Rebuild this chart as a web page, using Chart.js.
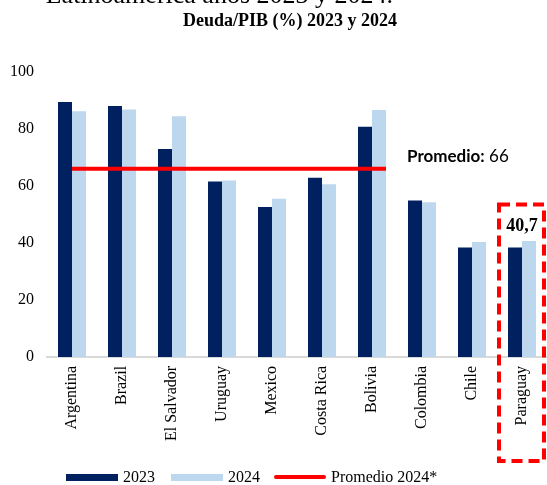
<!DOCTYPE html>
<html>
<head>
<meta charset="utf-8">
<script src="https://cdn.jsdelivr.net/npm/chart.js@4.4.1/dist/chart.umd.min.js"></script>
<style>
  html, body { margin: 0; padding: 0; background: #fff; }
  #wrap { position: relative; width: 547px; height: 485px; }
  #legend {
    position: absolute; left: 66px; top: 466px; height: 22px;
    display: flex; align-items: center;
    font: 16px 'Liberation Serif', 'Times New Roman', serif; color: #000;
  }
  #legend .sw { display: inline-block; width: 52px; margin-right: 5px; }
  #legend .item { display: flex; align-items: center; margin-right: 16px; }
</style>
</head>
<body>
<div id="wrap">
  <canvas id="myChart" width="547" height="485"></canvas>
  <div id="legend"></div>
</div>
<script>
// datos Deuda/PIB
var paises = ['Argentina', 'Brazil', 'El Salvador', 'Uruguay', 'Mexico',
  'Costa Rica', 'Bolivia', 'Colombia', 'Chile', 'Paraguay'];
var deuda2023 = [89.5, 88.1, 73.0, 61.6, 52.6, 62.9, 80.8, 54.9, 38.4, 38.4];
var deuda2024 = [86.2, 86.8, 84.5, 61.9, 55.5, 60.6, 86.7, 54.3, 40.3, 40.7];
var promedio2024 = 66;
var promedioDesde = 'Argentina';
var promedioHasta = 'Bolivia';
var destacado = 'Paraguay';
var yTicks = [0, 20, 40, 60, 80, 100];

var azul = '#002060';
var celeste = '#BDD7EE';
var rojo = '#FF0000';
var serif = "'Liberation Serif', 'Times New Roman', serif";

// legend (html)
document.getElementById('legend').innerHTML =
  '<span class="item"><span class="sw" style="height:7px;background:' + azul + '"></span>2023</span>' +
  '<span class="item" style="margin-right:14px"><span class="sw" style="height:7px;background:' + celeste + '"></span>2024</span>' +
  '<span class="item"><span class="sw" style="height:4px;border-radius:2px;background:' + rojo + '"></span>Promedio 2024*</span>';

var extras = {
  id: 'extras',
  afterDatasetsDraw: function (chart) {
    // promedio line: from Argentina (2024 bar start) to Bolivia (2024 bar end)
    var ctx = chart.ctx;
    var y = chart.scales.y;
    var bars = chart.getDatasetMeta(1).data;
    var a = bars[paises.indexOf(promedioDesde)];
    var b = bars[paises.indexOf(promedioHasta)];
    var py = y.getPixelForValue(promedio2024);
    ctx.save();
    ctx.strokeStyle = rojo;
    ctx.lineWidth = 4;
    ctx.beginPath();
    ctx.moveTo(a.x - a.width / 2, py);
    ctx.lineTo(b.x + b.width / 2, py);
    ctx.stroke();
    ctx.restore();
  },
  afterDraw: function (chart) {
    var ctx = chart.ctx;
    var x = chart.scales.x;
    var y = chart.scales.y;
    ctx.save();

    // cut heading at the very top
    ctx.fillStyle = '#000';
    ctx.font = '26px ' + serif;
    ctx.textAlign = 'right';
    ctx.textBaseline = 'alphabetic';
    ctx.fillText('Latinoamérica años 2023 y 2024.', 393, 3);

    // title
    ctx.font = 'bold 18px ' + serif;
    ctx.textAlign = 'center';
    ctx.fillText('Deuda/PIB (%) 2023 y 2024', 290, 26);

    // Promedio: 66
    var py = y.getPixelForValue(promedio2024) - 7;
    ctx.textAlign = 'left';
    ctx.font = 'bold 17px Lato';
    var lbl = 'Promedio:';
    ctx.fillText(lbl, 407, py);
    var w = ctx.measureText(lbl).width;
    ctx.font = '17px Lato';
    ctx.fillText(' ' + promedio2024, 407 + w, py);

    // highlighted country
    var i = paises.indexOf(destacado);
    var cx = x.getPixelForValue(i);
    var step = x.getPixelForValue(1) - x.getPixelForValue(0);
    ctx.font = 'bold 18px ' + serif;
    ctx.textAlign = 'center';
    ctx.fillText(deuda2024[i].toFixed(1).replace('.', ','), cx, y.getPixelForValue(deuda2024[i]) - 10);

    var top = y.getPixelForValue(53.5);
    var left = cx - step / 2 + 2;
    ctx.strokeStyle = rojo;
    ctx.lineWidth = 4;
    ctx.setLineDash([11, 6]);
    ctx.strokeRect(left, top, chart.chartArea.right - 3 - left, 461 - top);
    ctx.restore();
  },
};

var ctx = document.getElementById('myChart').getContext('2d');
var myChart = new Chart(ctx, {
  type: 'bar',
  data: {
    labels: paises,
    datasets: [
      {
        label: '2023',
        data: deuda2023,
        backgroundColor: azul,
      },
      {
        label: '2024',
        data: deuda2024,
        backgroundColor: celeste,
      },
    ],
  },
  options: {
    responsive: false,
    animation: false,
    categoryPercentage: 0.56,
    barPercentage: 1,
    layout: { padding: { top: 72, left: 0, right: 0, bottom: 35 } },
    plugins: {
      legend: { display: false },
      title: { display: false },
      tooltip: { enabled: false },
    },
    scales: {
      x: {
        grid: { display: false, drawTicks: false },
        border: { color: '#D9D9D9', width: 2 },
        afterFit: function (s) { s.paddingLeft = 0; s.paddingRight = 0; },
        ticks: {
          color: '#000',
          font: { family: serif, size: 16 },
          minRotation: 90,
          maxRotation: 90,
          autoSkip: false,
          padding: 9,
        },
      },
      y: {
        min: 0,
        max: 100,
        grid: { display: false, drawTicks: false },
        border: { display: false },
        afterFit: function (s) { s.width = s.width - 3; },
        afterBuildTicks: function (scale) {
          scale.ticks = yTicks.map(function (v) { return { value: v }; });
        },
        ticks: {
          color: '#000',
          font: { family: serif, size: 16 },
          padding: 13,
        },
      },
    },
  },
  plugins: [extras],
});
</script>
</body>
</html>
